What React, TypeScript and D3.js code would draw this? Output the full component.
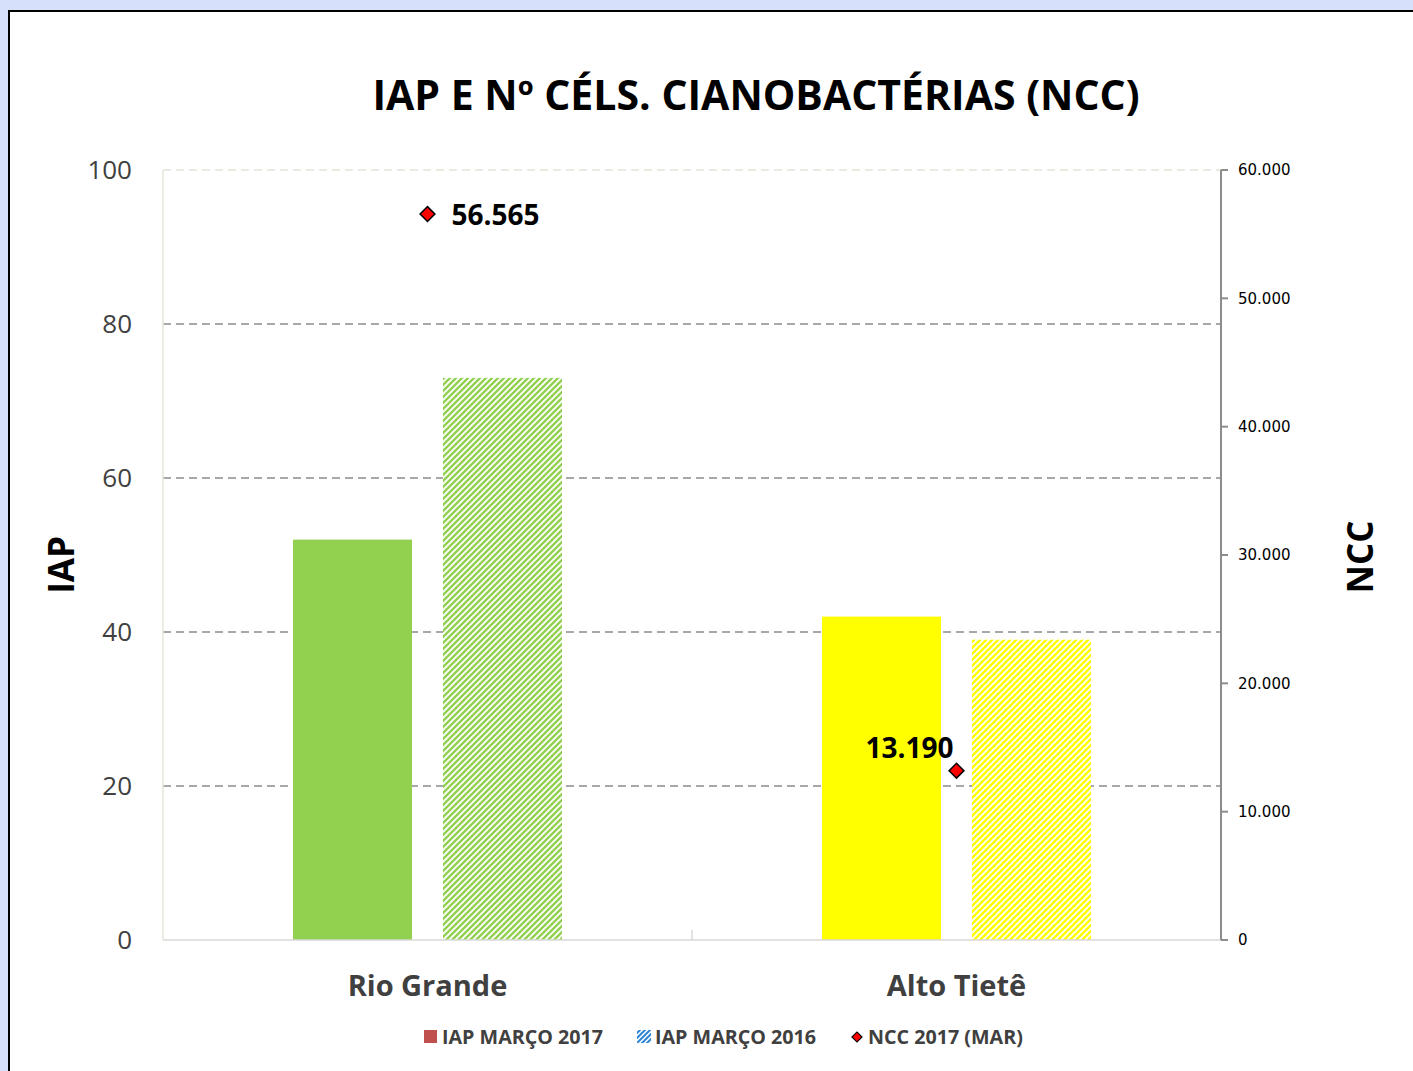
import React, { useEffect } from "react";
import * as d3 from "d3";

// chart data
const categories = ["Rio Grande", "Alto Tietê"];
const seriesNames = ["IAP MARÇO 2017", "IAP MARÇO 2016"];
const iap2017 = [52, 42];
const iap2016 = [73, 39];
const ncc2017 = [56565, 13190];
const leftTicks = [0, 20, 40, 60, 80, 100];
const rightTicks = [0, 10000, 20000, 30000, 40000, 50000, 60000];
const barColors = ["#92d050", "#ffff00"];

const W = 1413;
const H = 1071;
const plot = { left: 163, right: 1221, top: 170, bottom: 940 };
const font = "'Open Sans', 'DejaVu Sans', sans-serif";

const fmtThousands = (v: number) =>
  d3.format(",")(v).replace(/,/g, ".");

export default function App() {
  useEffect(() => {
    document.body.style.margin = "0";
  }, []);

  const x = d3.scaleBand().domain(categories).range([plot.left, plot.right]);
  const inner = d3
    .scaleBand()
    .domain(seriesNames)
    .range([0, x.bandwidth()])
    .paddingInner(0.2067)
    .paddingOuter(0.867);
  const y = d3.scaleLinear().domain([0, 100]).range([plot.bottom, plot.top]);
  const y2 = d3.scaleLinear().domain([0, 60000]).range([plot.bottom, plot.top]);
  const diamond = d3.symbol(d3.symbolSquare, 110)()!;

  return (
    <svg width={W} height={H} style={{ display: "block" }} fontFamily={font}>
      <defs>
        {barColors.map((c, i) => (
          <pattern
            key={i}
            id={`hatch${i}`}
            patternUnits="userSpaceOnUse"
            width={6}
            height={6}
          >
            <rect width={6} height={6} fill="#ffffff" />
            <path
              d="M0,6 L6,0 M-1,1 L1,-1 M5,7 L7,5"
              stroke={c}
              strokeWidth={2.4}
            />
          </pattern>
        ))}
        <pattern id="hatchBlue" patternUnits="userSpaceOnUse" width={5} height={5}>
          <rect width={5} height={5} fill="#ffffff" />
          <path d="M0,5 L5,0 M-1,1 L1,-1 M4,6 L6,4" stroke="#2e86d6" strokeWidth={2} />
        </pattern>
      </defs>

      <rect width={W} height={H} fill="#d7e0fa" />
      <rect x={9} y={11} width={W + 20} height={H + 20} fill="#ffffff" stroke="#000000" strokeWidth={2} />

      <text
        x={756}
        y={110}
        textAnchor="middle"
        fontSize={41}
        fontWeight="bold"
        fill="#000000"
      >
        IAP E Nº CÉLS. CIANOBACTÉRIAS (NCC)
      </text>

      {/* gridlines */}
      {leftTicks.filter((t) => t > 0).map((t) => (
        <line
          key={t}
          x1={plot.left}
          x2={plot.right}
          y1={y(t)}
          y2={y(t)}
          stroke={t === 100 ? "#e4e4d6" : "#8c8c8c"}
          strokeWidth={t === 100 ? 1.5 : 1.6}
          strokeDasharray="8,5"
        />
      ))}
      <line x1={plot.left} x2={plot.left} y1={plot.top} y2={plot.bottom} stroke="#e6e6d8" strokeWidth={1.5} />

      {/* bars */}
      {categories.map((c, i) => {
        const x0 = x(c)!;
        const b1 = x0 + inner(seriesNames[0])!;
        const b2 = x0 + inner(seriesNames[1])!;
        return (
          <g key={c}>
            <rect x={b1} y={y(iap2017[i])} width={inner.bandwidth()} height={y(0) - y(iap2017[i])} fill={barColors[i]} />
            <rect x={b2} y={y(iap2016[i])} width={inner.bandwidth()} height={y(0) - y(iap2016[i])} fill={`url(#hatch${i})`} />
          </g>
        );
      })}

      {/* bottom axis */}
      <line x1={plot.left} x2={plot.right} y1={plot.bottom} y2={plot.bottom} stroke="#d9d9d9" strokeWidth={1.5} />
      {x.domain().slice(1).map((c) => (
        <line key={c} x1={x(c)!} x2={x(c)!} y1={plot.bottom - 10} y2={plot.bottom} stroke="#d9d9d9" strokeWidth={1.5} />
      ))}
      {categories.map((c) => (
        <text
          key={c}
          x={x(c)! + x.bandwidth() / 2}
          y={996}
          textAnchor="middle"
          fontSize={29}
          fontWeight="bold"
          fill="#404040"
        >
          {c}
        </text>
      ))}

      {/* left axis */}
      {leftTicks.map((t) => (
        <text key={t} x={132} y={y(t)} dy="0.35em" textAnchor="end" fontSize={26} fill="#404040">
          {t}
        </text>
      ))}
      <text
        transform={`translate(74,${(plot.top + plot.bottom) / 2 + 10}) rotate(-90)`}
        textAnchor="middle"
        fontSize={35}
        fontWeight="bold"
        fill="#000000"
      >
        IAP
      </text>

      {/* right axis */}
      <line x1={plot.right} x2={plot.right} y1={plot.top} y2={plot.bottom} stroke="#8c8c8c" strokeWidth={2} />
      {rightTicks.map((t) => (
        <g key={t}>
          <line x1={plot.right} x2={plot.right + 7} y1={y2(t)} y2={y2(t)} stroke="#8c8c8c" strokeWidth={2} />
          <text x={1238} y={y2(t)} dy="0.35em" fontSize={15} fill="#000000" fontFamily="'DejaVu Sans', sans-serif">
            {fmtThousands(t)}
          </text>
        </g>
      ))}
      <text
        transform={`translate(1373,${(plot.top + plot.bottom) / 2 + 2}) rotate(-90)`}
        textAnchor="middle"
        fontSize={35}
        fontWeight="bold"
        fill="#000000"
      >
        NCC
      </text>

      {/* NCC markers */}
      {categories.map((c, i) => {
        const cx = x(c)! + x.bandwidth() / 2;
        const cy = y2(ncc2017[i]);
        return (
          <g key={c}>
            <path d={diamond} transform={`translate(${cx},${cy}) rotate(45)`} fill="#ff0000" stroke="#000000" strokeWidth={1.5} />
            {i === 0 ? (
              <text x={cx + 24} y={cy + 11} fontSize={28} fontWeight="bold" fill="#000000">
                {fmtThousands(ncc2017[i])}
              </text>
            ) : (
              <text x={cx - 3} y={cy - 13} textAnchor="end" fontSize={28} fontWeight="bold" fill="#000000">
                {fmtThousands(ncc2017[i])}
              </text>
            )}
          </g>
        );
      })}

      {/* legend */}
      <g fontSize={19.7} fontWeight="bold" fill="#404040">
        <rect x={424} y={1030} width={13} height={13} fill="#c0504d" />
        <text x={442} y={1044}>{seriesNames[0]}</text>
        <rect x={637} y={1030} width={14} height={13} fill="url(#hatchBlue)" />
        <text x={655} y={1044}>{seriesNames[1]}</text>
        <path d={d3.symbol(d3.symbolSquare, 50)()!} transform="translate(857,1037) rotate(45)" fill="#ff0000" stroke="#000000" strokeWidth={1.2} />
        <text x={868} y={1044}>NCC 2017 (MAR)</text>
      </g>
    </svg>
  );
}
